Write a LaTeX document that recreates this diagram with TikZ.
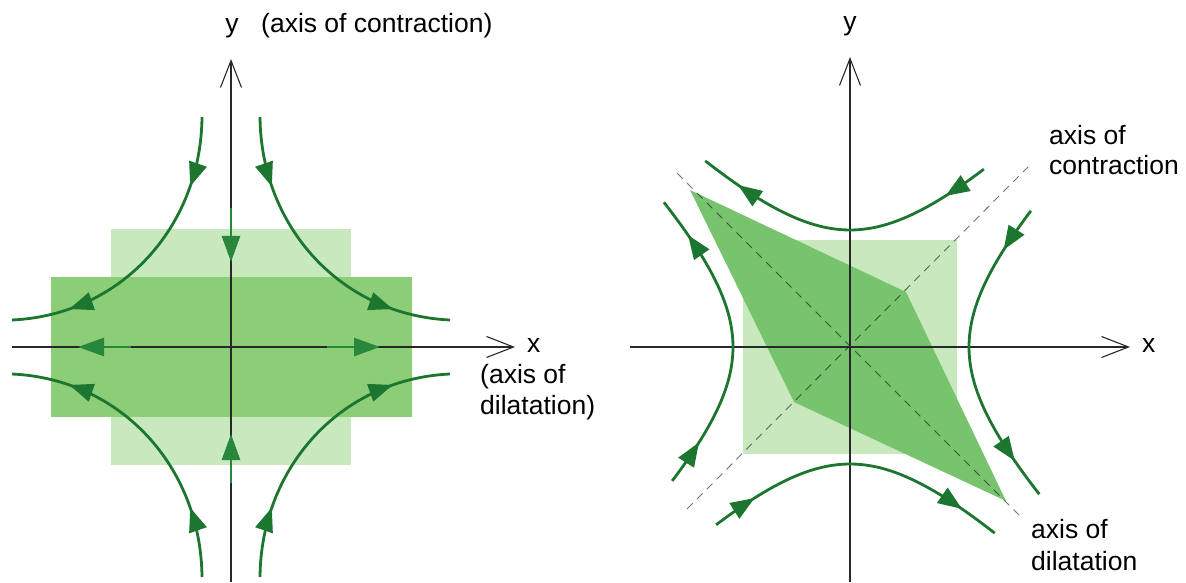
\documentclass[tikz,border=0pt]{standalone}
\usepackage{fontspec}
\setmainfont{Liberation Sans}
\usetikzlibrary{arrows.meta,decorations.markings}
\definecolor{lightg}{RGB}{200,232,190}
\definecolor{darkg}{RGB}{140,206,120}
\definecolor{polyg}{RGB}{120,196,110}
\definecolor{flowg}{RGB}{28,118,48}
\definecolor{straightg}{RGB}{40,135,58}
\definecolor{axisc}{RGB}{40,40,40}
\begin{document}
\begin{tikzpicture}[x=1pt,y=1pt,
  lbl/.style={inner sep=0pt, font=\fontsize{26.5}{30}\selectfont, text=black},
  axisline/.style={draw=axisc, line width=1.1pt, -{Straight Barb[length=27pt,width=21pt]}},
  flow/.style={draw=flowg, line width=2.8pt},
  flowtip/.style={draw=straightg, -{Triangle[length=26pt,width=18pt]}},
  flowmarks/.style 2 args={postaction={decorate}, decoration={markings,
      mark=at position #1 with {\arrow{Triangle[length=24pt,width=18pt]}},
      mark=at position #2 with {\arrow{Triangle[length=24pt,width=18pt]}}}},
  diag/.style={draw=black, draw opacity=0.55, line width=0.9pt, dash pattern=on 8pt off 6pt}
  ]
\useasboundingbox (0,0) rectangle (1186,582);

% ---------------- left diagram ----------------
\begin{scope}[shift={(231,235)}]
  \fill[lightg] (-120,-118) rectangle (120,118);
  \fill[darkg] (-180,-70) rectangle (181,70);
  \coordinate (LxS) at (-219,0);
  \coordinate (LxE) at (284,0);
  \coordinate (LyS) at (0,-235);
  \coordinate (LyE) at (0,288);
  \draw[axisline] (LxS) -- (LxE);
  \draw[axisline] (LyS) -- (LyE);
  \foreach \sx/\sy in {1/1,-1/1,1/-1,-1/-1}{
    \begin{scope}[xscale=\sx,yscale=\sy]
      \draw[flow, flowmarks={0.23}{0.81}] (-29,230) .. controls (-30,120) and (-110,32) .. (-219,27);
    \end{scope}
  }
  \coordinate (Lt0) at (0,139);  \coordinate (Lt1) at (0,85);
  \coordinate (Lb0) at (0,-136); \coordinate (Lb1) at (0,-87);
  \coordinate (Ll0) at (-100,0); \coordinate (Ll1) at (-153,0);
  \coordinate (Lr0) at (96,0);   \coordinate (Lr1) at (149,0);
  \draw[flow, flowtip] (Lt0) -- (Lt1);
  \draw[flow, flowtip] (Lb0) -- (Lb1);
  \draw[flow, flowtip] (Ll0) -- (Ll1);
  \draw[flow, flowtip] (Lr0) -- (Lr1);
\end{scope}

% ---------------- right diagram ----------------
\begin{scope}[shift={(850,235)}]
  \fill[lightg] (-107,-107) rectangle (107,107);
  \fill[polyg] (-160,157) -- (56,55) -- (156,-154) -- (-56,-55) -- cycle;
  \coordinate (D1a) at (-173,174);
  \coordinate (D1b) at (169,-168);
  \coordinate (D2a) at (-163,-162);
  \coordinate (D2b) at (178,180);
  \draw[diag] (D1a) -- (D1b);
  \draw[diag] (D2a) -- (D2b);
  \coordinate (RxS) at (-220,0);
  \coordinate (RxE) at (280,0);
  \coordinate (RyS) at (0,-235);
  \coordinate (RyE) at (0,290);
  \draw[axisline] (RxS) -- (RxE);
  \draw[axisline] (RyS) -- (RyE);
  % hyperbolic stream lines, drawn in the direction of flow
  \draw[flow, line join=round, flowmarks={0.15}{0.87}] plot[domain=-0.98:1.04, samples=50, variable=\t] ({-58.5*(exp(\t)-exp(-\t))}, {58.5*(exp(\t)+exp(-\t))});
  \draw[flow, line join=round, flowmarks={0.15}{0.87}] plot[domain=-0.98:1.04, samples=50, variable=\t] ({58.5*(exp(\t)-exp(-\t))}, {-58.5*(exp(\t)+exp(-\t))});
  \draw[flow, line join=round, flowmarks={0.15}{0.87}] plot[domain=-0.98:1.04, samples=50, variable=\t] ({-58.5*(exp(\t)+exp(-\t))}, {58.5*(exp(\t)-exp(-\t))});
  \draw[flow, line join=round, flowmarks={0.15}{0.87}] plot[domain=-0.98:1.04, samples=50, variable=\t] ({59.5*(exp(\t)+exp(-\t))}, {-59.5*(exp(\t)-exp(-\t))});
\end{scope}

% ---------------- labels ----------------
\node[lbl, anchor=base] (yL) at (232,549) {y};
\node[lbl, anchor=base west] (contrL) at (261,549) {(axis of contraction)};
\node[lbl, anchor=base west] (xL) at (527,230) {x};
\node[lbl, anchor=base west] (dilL1) at (480,199) {(axis of};
\node[lbl, anchor=base west] (dilL2) at (480,168) {dilatation)};
\node[lbl, anchor=base] (yR) at (850,551) {y};
\node[lbl, anchor=base west] (xR) at (1142,230) {x};
\node[lbl, anchor=base west] (contrR1) at (1049,437) {axis of};
\node[lbl, anchor=base west] (contrR2) at (1049,407) {contraction};
\node[lbl, anchor=base west] (dilR1) at (1031,44) {axis of};
\node[lbl, anchor=base west] (dilR2) at (1031,12) {dilatation};
\end{tikzpicture}
\end{document}
